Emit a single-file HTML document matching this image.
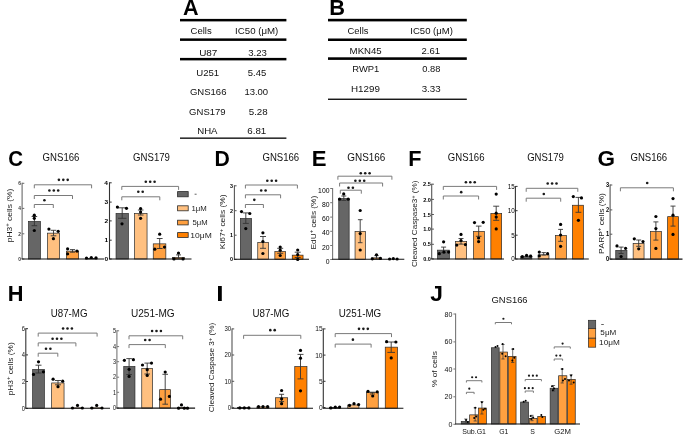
<!DOCTYPE html>
<html><head><meta charset="utf-8"><style>
html,body{margin:0;padding:0;background:#fff;width:685px;height:435px;overflow:hidden}
svg{will-change:transform;display:block;font-family:"Liberation Sans",sans-serif;font-kerning:none;white-space:pre}
</style></head><body>
<svg width="685" height="435" viewBox="0 0 685 435">
<rect width="685" height="435" fill="#fff"/>
<rect x="180" y="18.9" width="106.4" height="2.5" fill="#000"/>
<rect x="180" y="38.4" width="106.4" height="2.5" fill="#000"/>
<rect x="180" y="57.9" width="106.4" height="2.5" fill="#000"/>
<rect x="180" y="137.5" width="106.4" height="1.3" fill="#000"/>
<text transform="translate(191.1 34.2) scale(0.9799 1.0000)" x="-0.49" y="0" fill="#111"><tspan font-size="9.7">Cells</tspan></text>
<text transform="translate(236 34.2) scale(0.9972 1.0000)" x="-0.9" y="0" fill="#111"><tspan font-size="9.7">IC50 (μM)</tspan></text>
<text transform="translate(199.9 56.2) scale(1.0267 1.0000)" x="-0.75" y="0" fill="#111"><tspan font-size="9.7">U87</tspan></text>
<text transform="translate(248.6 56.2) scale(0.9899 1.0000)" x="-0.37" y="0" fill="#111"><tspan font-size="9.7">3.23</tspan></text>
<text transform="translate(197 76.3) scale(0.9878 1.0000)" x="-0.75" y="0" fill="#111"><tspan font-size="9.7">U251</tspan></text>
<text transform="translate(248.2 76.3) scale(0.9788 1.0000)" x="-0.39" y="0" fill="#111"><tspan font-size="9.7">5.45</tspan></text>
<text transform="translate(190.4 94.7) scale(0.9837 1.0000)" x="-0.49" y="0" fill="#111"><tspan font-size="9.7">GNS166</tspan></text>
<text transform="translate(245.1 94.7) scale(0.9803 1.0000)" x="-0.74" y="0" fill="#111"><tspan font-size="9.7">13.00</tspan></text>
<text transform="translate(189.6 115.2) scale(0.9819 1.0000)" x="-0.49" y="0" fill="#111"><tspan font-size="9.7">GNS179</tspan></text>
<text transform="translate(249.1 115.2) scale(1.0072 1.0000)" x="-0.39" y="0" fill="#111"><tspan font-size="9.7">5.28</tspan></text>
<text transform="translate(198 134.2) scale(0.9916 1.0000)" x="-0.8" y="0" fill="#111"><tspan font-size="9.7">NHA</tspan></text>
<text transform="translate(247.8 134.2) scale(1.0049 1.0000)" x="-0.49" y="0" fill="#111"><tspan font-size="9.7">6.81</tspan></text>
<rect x="328" y="18.8" width="138.8" height="2.6" fill="#000"/>
<rect x="328" y="38.5" width="138.8" height="2.5" fill="#000"/>
<rect x="328" y="57.3" width="138.8" height="2.6" fill="#000"/>
<rect x="328" y="98.6" width="138.8" height="1.3" fill="#000"/>
<text transform="translate(348 34.1) scale(0.9702 1.0000)" x="-0.49" y="0" fill="#111"><tspan font-size="9.7">Cells</tspan></text>
<text transform="translate(411.2 34.1) scale(0.9852 1.0000)" x="-0.9" y="0" fill="#111"><tspan font-size="9.7">IC50 (μM)</tspan></text>
<text transform="translate(350.4 53.5) scale(0.9955 1.0000)" x="-0.8" y="0" fill="#111"><tspan font-size="9.7">MKN45</tspan></text>
<text transform="translate(422 53.5) scale(0.9823 1.0000)" x="-0.49" y="0" fill="#111"><tspan font-size="9.7">2.61</tspan></text>
<text transform="translate(352.9 72.2) scale(0.9718 1.0000)" x="-0.8" y="0" fill="#111"><tspan font-size="9.7">RWP1</tspan></text>
<text transform="translate(422.6 72.2) scale(0.9625 1.0000)" x="-0.38" y="0" fill="#111"><tspan font-size="9.7">0.88</tspan></text>
<text transform="translate(351.8 91.5) scale(1.0136 1.0000)" x="-0.8" y="0" fill="#111"><tspan font-size="9.7">H1299</tspan></text>
<text transform="translate(422 91.5) scale(1.0065 1.0000)" x="-0.37" y="0" fill="#111"><tspan font-size="9.7">3.33</tspan></text>
<text transform="translate(183.5 14.9) scale(0.9606 1.0000)" x="-0.56" y="0" fill="#000" font-weight="bold"><tspan font-size="22.5">A</tspan></text>
<text transform="translate(330.7 15.1) scale(0.9693 1.0000)" x="-1.51" y="0" fill="#000" font-weight="bold"><tspan font-size="22.5">B</tspan></text>
<text transform="translate(9 165.5) scale(0.9109 1.0000)" x="-0.92" y="0" fill="#000" font-weight="bold"><tspan font-size="22.5">C</tspan></text>
<text transform="translate(43.1 161.2) scale(0.9227 1.0000)" x="-0.52" y="0" fill="#111"><tspan font-size="10.4">GNS166</tspan></text>
<text transform="translate(11.9 241.7) rotate(-90) scale(1.1873 1)" x="-0.46" y="0" fill="#1a1a1a"><tspan font-size="7.1">pH3</tspan><tspan font-size="5.11" dy="-2.56">+</tspan><tspan font-size="7.1" dy="2.56"> cells (%)</tspan></text>
<line x1="22.1" y1="182.8" x2="22.1" y2="259" stroke="#6a6a6a" stroke-width="1.1"/>
<line x1="22.1" y1="183.3" x2="24.3" y2="183.3" stroke="#6a6a6a" stroke-width="1"/>
<text transform="translate(18.45 185.16) scale(0.9000 1.0000)" x="-0.2" y="0" fill="#333" font-weight="bold"><tspan font-size="5.4">6</tspan></text>
<line x1="22.1" y1="208.4" x2="24.3" y2="208.4" stroke="#6a6a6a" stroke-width="1"/>
<text transform="translate(18.2 210.26) scale(0.9000 1.0000)" x="-0.08" y="0" fill="#333" font-weight="bold"><tspan font-size="5.4">4</tspan></text>
<line x1="22.1" y1="233.8" x2="24.3" y2="233.8" stroke="#6a6a6a" stroke-width="1"/>
<text transform="translate(18.46 235.69) scale(0.9000 1.0000)" x="-0.19" y="0" fill="#333" font-weight="bold"><tspan font-size="5.4">2</tspan></text>
<line x1="22.1" y1="259" x2="24.3" y2="259" stroke="#6a6a6a" stroke-width="1"/>
<text transform="translate(18.49 260.86) scale(0.9000 1.0000)" x="-0.21" y="0" fill="#333" font-weight="bold"><tspan font-size="5.4">0</tspan></text>
<rect x="28.55" y="221.45" width="11.9" height="37.55" fill="#666666" stroke="#2a2a2a" stroke-width="0.7"/>
<rect x="47.55" y="233.15" width="12" height="25.85" fill="#FFC080" stroke="#2a2a2a" stroke-width="0.7"/>
<rect x="66.35" y="251.15" width="12.3" height="7.85" fill="#FFA040" stroke="#2a2a2a" stroke-width="0.7"/>
<rect x="85.35" y="258.65" width="11.8" height="0.35" fill="#FF8000" stroke="#2a2a2a" stroke-width="0.7"/>
<line x1="21.6" y1="259" x2="104" y2="259" stroke="#111" stroke-width="1.1"/>
<line x1="34.4" y1="216.5" x2="34.4" y2="225.7" stroke="#333" stroke-width="0.9"/>
<line x1="31.6" y1="216.5" x2="37.2" y2="216.5" stroke="#333" stroke-width="0.9"/>
<line x1="31.6" y1="225.7" x2="37.2" y2="225.7" stroke="#333" stroke-width="0.9"/>
<line x1="53.5" y1="230.3" x2="53.5" y2="235.8" stroke="#333" stroke-width="0.9"/>
<line x1="50.7" y1="230.3" x2="56.3" y2="230.3" stroke="#333" stroke-width="0.9"/>
<line x1="50.7" y1="235.8" x2="56.3" y2="235.8" stroke="#333" stroke-width="0.9"/>
<line x1="72.5" y1="249.6" x2="72.5" y2="252.2" stroke="#333" stroke-width="0.9"/>
<line x1="69.9" y1="249.6" x2="75.1" y2="249.6" stroke="#333" stroke-width="0.9"/>
<line x1="69.9" y1="252.2" x2="75.1" y2="252.2" stroke="#333" stroke-width="0.9"/>
<circle cx="34.3" cy="215.2" r="1.6" fill="#000"/>
<circle cx="34.3" cy="218.3" r="1.6" fill="#000"/>
<circle cx="34.3" cy="230.5" r="1.6" fill="#000"/>
<circle cx="48.9" cy="229.1" r="1.6" fill="#000"/>
<circle cx="58.2" cy="231.3" r="1.6" fill="#000"/>
<circle cx="53.4" cy="238.7" r="1.6" fill="#000"/>
<circle cx="67.6" cy="248.8" r="1.6" fill="#000"/>
<circle cx="77" cy="251.1" r="1.6" fill="#000"/>
<circle cx="67.6" cy="253.9" r="1.6" fill="#000"/>
<circle cx="86.5" cy="258" r="1.6" fill="#000"/>
<circle cx="91.3" cy="257.5" r="1.6" fill="#000"/>
<circle cx="96" cy="257.8" r="1.6" fill="#000"/>
<path d="M34.3 208V204.5H53.3V208" fill="none" stroke="#7a7a7a" stroke-width="1"/>
<circle cx="44.4" cy="200.25" r="1.3" fill="#1a1a1a"/>
<path d="M34.3 199V195.5H72.5V199" fill="none" stroke="#7a7a7a" stroke-width="1"/>
<circle cx="49.4" cy="190.55" r="1.3" fill="#1a1a1a"/>
<circle cx="53.8" cy="190.55" r="1.3" fill="#1a1a1a"/>
<circle cx="58.2" cy="190.55" r="1.3" fill="#1a1a1a"/>
<path d="M34.3 188.3V184.8H91.6V188.3" fill="none" stroke="#7a7a7a" stroke-width="1"/>
<circle cx="58.9" cy="179.85" r="1.3" fill="#1a1a1a"/>
<circle cx="63.3" cy="179.85" r="1.3" fill="#1a1a1a"/>
<circle cx="67.7" cy="179.85" r="1.3" fill="#1a1a1a"/>
<text transform="translate(133.6 161.2) scale(0.9235 1.0000)" x="-0.52" y="0" fill="#111"><tspan font-size="10.4">GNS179</tspan></text>
<line x1="109.5" y1="182.3" x2="109.5" y2="259" stroke="#333" stroke-width="1.1"/>
<line x1="109.5" y1="182.8" x2="111.7" y2="182.8" stroke="#333" stroke-width="1"/>
<text transform="translate(104.46 184.86) scale(1.1000 1.0000)" x="-0.09" y="0" fill="#000" font-weight="bold"><tspan font-size="6">4</tspan></text>
<line x1="109.5" y1="202.1" x2="111.7" y2="202.1" stroke="#333" stroke-width="1"/>
<text transform="translate(104.72 204.16) scale(1.1000 1.0000)" x="-0.14" y="0" fill="#000" font-weight="bold"><tspan font-size="6">3</tspan></text>
<line x1="109.5" y1="220.9" x2="111.7" y2="220.9" stroke="#333" stroke-width="1"/>
<text transform="translate(104.82 222.99) scale(1.1000 1.0000)" x="-0.21" y="0" fill="#000" font-weight="bold"><tspan font-size="6">2</tspan></text>
<line x1="109.5" y1="240.2" x2="111.7" y2="240.2" stroke="#333" stroke-width="1"/>
<text transform="translate(104.93 242.26) scale(1.1000 1.0000)" x="-0.38" y="0" fill="#000" font-weight="bold"><tspan font-size="6">1</tspan></text>
<line x1="109.5" y1="259" x2="111.7" y2="259" stroke="#333" stroke-width="1"/>
<text transform="translate(104.86 261.07) scale(1.1000 1.0000)" x="-0.24" y="0" fill="#000" font-weight="bold"><tspan font-size="6">0</tspan></text>
<rect x="116.05" y="213.45" width="12.3" height="45.55" fill="#666666" stroke="#2a2a2a" stroke-width="0.7"/>
<rect x="134.55" y="213.45" width="12.5" height="45.55" fill="#FFC080" stroke="#2a2a2a" stroke-width="0.7"/>
<rect x="153.25" y="243.85" width="12.6" height="15.15" fill="#FFA040" stroke="#2a2a2a" stroke-width="0.7"/>
<rect x="172.55" y="257.65" width="11.8" height="1.35" fill="#FF8000" stroke="#2a2a2a" stroke-width="0.7"/>
<line x1="109" y1="259" x2="191.5" y2="259" stroke="#111" stroke-width="1.1"/>
<line x1="122.2" y1="207.8" x2="122.2" y2="218.3" stroke="#333" stroke-width="0.9"/>
<line x1="118" y1="207.8" x2="126.4" y2="207.8" stroke="#333" stroke-width="0.9"/>
<line x1="118" y1="218.3" x2="126.4" y2="218.3" stroke="#333" stroke-width="0.9"/>
<line x1="140.7" y1="210" x2="140.7" y2="215" stroke="#333" stroke-width="0.9"/>
<line x1="137.9" y1="210" x2="143.5" y2="210" stroke="#333" stroke-width="0.9"/>
<line x1="137.9" y1="215" x2="143.5" y2="215" stroke="#333" stroke-width="0.9"/>
<line x1="159.7" y1="238.5" x2="159.7" y2="248.5" stroke="#333" stroke-width="0.9"/>
<line x1="156.8" y1="238.5" x2="162.6" y2="238.5" stroke="#333" stroke-width="0.9"/>
<line x1="156.8" y1="248.5" x2="162.6" y2="248.5" stroke="#333" stroke-width="0.9"/>
<line x1="178.5" y1="254.9" x2="178.5" y2="259" stroke="#333" stroke-width="0.9"/>
<line x1="176" y1="254.9" x2="181" y2="254.9" stroke="#333" stroke-width="0.9"/>
<line x1="176" y1="259" x2="181" y2="259" stroke="#333" stroke-width="0.9"/>
<circle cx="117.4" cy="207.1" r="1.6" fill="#000"/>
<circle cx="126.5" cy="208.3" r="1.6" fill="#000"/>
<circle cx="122" cy="223.8" r="1.6" fill="#000"/>
<circle cx="140.6" cy="208.6" r="1.6" fill="#000"/>
<circle cx="140.6" cy="212.1" r="1.6" fill="#000"/>
<circle cx="140.6" cy="218.3" r="1.6" fill="#000"/>
<circle cx="159.7" cy="234.2" r="1.6" fill="#000"/>
<circle cx="154.8" cy="249.2" r="1.6" fill="#000"/>
<circle cx="164.5" cy="247.1" r="1.6" fill="#000"/>
<circle cx="178.5" cy="253" r="1.6" fill="#000"/>
<circle cx="174" cy="258.9" r="1.6" fill="#000"/>
<circle cx="183" cy="258.9" r="1.6" fill="#000"/>
<path d="M121.8 200.3V196.8H159.8V200.3" fill="none" stroke="#7a7a7a" stroke-width="1"/>
<circle cx="138.3" cy="191.75" r="1.3" fill="#1a1a1a"/>
<circle cx="142.7" cy="191.75" r="1.3" fill="#1a1a1a"/>
<path d="M121.8 189.9V186.4H178.6V189.9" fill="none" stroke="#7a7a7a" stroke-width="1"/>
<circle cx="145.8" cy="181.75" r="1.3" fill="#1a1a1a"/>
<circle cx="150.2" cy="181.75" r="1.3" fill="#1a1a1a"/>
<circle cx="154.6" cy="181.75" r="1.3" fill="#1a1a1a"/>
<rect x="177.6" y="191.6" width="10.6" height="5.2" fill="#666666" stroke="#2a2a2a" stroke-width="0.8"/>
<rect x="177.6" y="205.8" width="10.6" height="5" fill="#FFC080" stroke="#2a2a2a" stroke-width="0.8"/>
<rect x="177.6" y="220.2" width="10.6" height="4.7" fill="#FFA040" stroke="#2a2a2a" stroke-width="0.8"/>
<rect x="177.6" y="232.6" width="10.6" height="4.8" fill="#FF8000" stroke="#2a2a2a" stroke-width="0.8"/>
<rect x="194.6" y="193.8" width="2" height="0.7" fill="#222"/>
<text transform="translate(192.1 211.2) scale(1.0266 1.0000)" x="-0.58" y="0" fill="#222"><tspan font-size="7.6">1</tspan><tspan font-size="7.6">μ</tspan><tspan font-size="7.6">M</tspan></text>
<text transform="translate(192.8 225.3) scale(1.0136 1.0000)" x="-0.3" y="0" fill="#222"><tspan font-size="7.6">5μM</tspan></text>
<text transform="translate(191 237.8) scale(1.1247 1.0000)" x="-0.58" y="0" fill="#222"><tspan font-size="7.6">10μM</tspan></text>
<text transform="translate(216 165.8) scale(0.9421 1.0000)" x="-1.51" y="0" fill="#000" font-weight="bold"><tspan font-size="22.5">D</tspan></text>
<text transform="translate(262.9 161.2) scale(0.9227 1.0000)" x="-0.52" y="0" fill="#111"><tspan font-size="10.4">GNS166</tspan></text>
<text transform="translate(225.2 248.5) rotate(-90) scale(1.1794 1)" x="-0.58" y="0" fill="#1a1a1a"><tspan font-size="7.1">Ki67</tspan><tspan font-size="5.11" dy="-2.56">+</tspan><tspan font-size="7.1" dy="2.56"> cells (%)</tspan></text>
<line x1="234.4" y1="185.3" x2="234.4" y2="259.2" stroke="#555" stroke-width="1.1"/>
<line x1="234.4" y1="185.8" x2="236.6" y2="185.8" stroke="#555" stroke-width="1"/>
<text transform="translate(230.12 187.86) scale(0.9000 1.0000)" x="-0.14" y="0" fill="#000" font-weight="bold"><tspan font-size="6">3</tspan></text>
<line x1="234.4" y1="210.7" x2="236.6" y2="210.7" stroke="#555" stroke-width="1"/>
<text transform="translate(230.2 212.79) scale(0.9000 1.0000)" x="-0.21" y="0" fill="#000" font-weight="bold"><tspan font-size="6">2</tspan></text>
<line x1="234.4" y1="235.2" x2="236.6" y2="235.2" stroke="#555" stroke-width="1"/>
<text transform="translate(230.29 237.26) scale(0.9000 1.0000)" x="-0.38" y="0" fill="#000" font-weight="bold"><tspan font-size="6">1</tspan></text>
<line x1="234.4" y1="259.4" x2="236.6" y2="259.4" stroke="#555" stroke-width="1"/>
<text transform="translate(230.23 261.47) scale(0.9000 1.0000)" x="-0.24" y="0" fill="#000" font-weight="bold"><tspan font-size="6">0</tspan></text>
<rect x="240.35" y="218.45" width="11.2" height="40.75" fill="#666666" stroke="#2a2a2a" stroke-width="0.7"/>
<rect x="257.75" y="242.45" width="10.9" height="16.75" fill="#FFC080" stroke="#2a2a2a" stroke-width="0.7"/>
<rect x="274.85" y="251.55" width="10.8" height="7.65" fill="#FFA040" stroke="#2a2a2a" stroke-width="0.7"/>
<rect x="292.25" y="255.15" width="10.8" height="4.05" fill="#FF8000" stroke="#2a2a2a" stroke-width="0.7"/>
<line x1="233.9" y1="259.2" x2="309" y2="259.2" stroke="#111" stroke-width="1.1"/>
<line x1="245.8" y1="212.9" x2="245.8" y2="223.4" stroke="#333" stroke-width="0.9"/>
<line x1="242.8" y1="212.9" x2="248.8" y2="212.9" stroke="#333" stroke-width="0.9"/>
<line x1="242.8" y1="223.4" x2="248.8" y2="223.4" stroke="#333" stroke-width="0.9"/>
<line x1="263" y1="236.5" x2="263" y2="248.3" stroke="#333" stroke-width="0.9"/>
<line x1="260" y1="236.5" x2="266" y2="236.5" stroke="#333" stroke-width="0.9"/>
<line x1="260" y1="248.3" x2="266" y2="248.3" stroke="#333" stroke-width="0.9"/>
<line x1="280.2" y1="248.3" x2="280.2" y2="253.3" stroke="#333" stroke-width="0.9"/>
<line x1="277.2" y1="248.3" x2="283.2" y2="248.3" stroke="#333" stroke-width="0.9"/>
<line x1="277.2" y1="253.3" x2="283.2" y2="253.3" stroke="#333" stroke-width="0.9"/>
<line x1="297.7" y1="252.2" x2="297.7" y2="257.5" stroke="#333" stroke-width="0.9"/>
<line x1="294.7" y1="252.2" x2="300.7" y2="252.2" stroke="#333" stroke-width="0.9"/>
<line x1="294.7" y1="257.5" x2="300.7" y2="257.5" stroke="#333" stroke-width="0.9"/>
<circle cx="241.5" cy="211.6" r="1.6" fill="#000"/>
<circle cx="249.8" cy="213.5" r="1.6" fill="#000"/>
<circle cx="245.8" cy="228.6" r="1.6" fill="#000"/>
<circle cx="262.9" cy="232.8" r="1.6" fill="#000"/>
<circle cx="262.9" cy="241.5" r="1.6" fill="#000"/>
<circle cx="262.9" cy="253.5" r="1.6" fill="#000"/>
<circle cx="280.2" cy="247" r="1.6" fill="#000"/>
<circle cx="280.2" cy="250.2" r="1.6" fill="#000"/>
<circle cx="280.2" cy="255.5" r="1.6" fill="#000"/>
<circle cx="297.7" cy="250" r="1.6" fill="#000"/>
<circle cx="297.7" cy="254.6" r="1.6" fill="#000"/>
<circle cx="297.7" cy="259.4" r="1.6" fill="#000"/>
<path d="M245.4 208V204.5H263.4V208" fill="none" stroke="#7a7a7a" stroke-width="1"/>
<circle cx="254.3" cy="199.85" r="1.3" fill="#1a1a1a"/>
<path d="M245.4 198.3V194.8H280.6V198.3" fill="none" stroke="#7a7a7a" stroke-width="1"/>
<circle cx="261.2" cy="190.45" r="1.3" fill="#1a1a1a"/>
<circle cx="265.6" cy="190.45" r="1.3" fill="#1a1a1a"/>
<path d="M245.4 188.5V185H297.4V188.5" fill="none" stroke="#7a7a7a" stroke-width="1"/>
<circle cx="267.3" cy="180.75" r="1.3" fill="#1a1a1a"/>
<circle cx="271.7" cy="180.75" r="1.3" fill="#1a1a1a"/>
<circle cx="276.1" cy="180.75" r="1.3" fill="#1a1a1a"/>
<text transform="translate(313.3 165.8) scale(0.9823 1.0000)" x="-1.51" y="0" fill="#000" font-weight="bold"><tspan font-size="22.5">E</tspan></text>
<text transform="translate(347.8 161.2) scale(0.9561 1.0000)" x="-0.52" y="0" fill="#111"><tspan font-size="10.4">GNS166</tspan></text>
<text transform="translate(316 248.8) rotate(-90) scale(1.1698 1)" x="-0.58" y="0" fill="#1a1a1a"><tspan font-size="7.1">EdU</tspan><tspan font-size="5.11" dy="-2.56">+</tspan><tspan font-size="7.1" dy="2.56"> cells (%)</tspan></text>
<line x1="332.6" y1="188" x2="332.6" y2="259.3" stroke="#777777" stroke-width="1.1"/>
<line x1="330.2" y1="188.5" x2="332.6" y2="188.5" stroke="#777777" stroke-width="1"/>
<text transform="translate(318.64 192.64) scale(1.0000 1.0000)" x="-0.52" y="0" fill="#000"><tspan font-size="6.8">100</tspan></text>
<line x1="330.2" y1="202.7" x2="332.6" y2="202.7" stroke="#777777" stroke-width="1"/>
<text transform="translate(322.2 206.84) scale(1.0000 1.0000)" x="-0.3" y="0" fill="#000"><tspan font-size="6.8">80</tspan></text>
<line x1="330.2" y1="217.1" x2="332.6" y2="217.1" stroke="#777777" stroke-width="1"/>
<text transform="translate(322.25 221.24) scale(1.0000 1.0000)" x="-0.35" y="0" fill="#000"><tspan font-size="6.8">60</tspan></text>
<line x1="330.2" y1="231.3" x2="332.6" y2="231.3" stroke="#777777" stroke-width="1"/>
<text transform="translate(322.06 235.44) scale(1.0000 1.0000)" x="-0.16" y="0" fill="#000"><tspan font-size="6.8">40</tspan></text>
<line x1="330.2" y1="245.5" x2="332.6" y2="245.5" stroke="#777777" stroke-width="1"/>
<text transform="translate(322.24 249.64) scale(1.0000 1.0000)" x="-0.34" y="0" fill="#000"><tspan font-size="6.8">20</tspan></text>
<line x1="330.2" y1="259.5" x2="332.6" y2="259.5" stroke="#777777" stroke-width="1"/>
<text transform="translate(325.95 263.64) scale(1.0000 1.0000)" x="-0.27" y="0" fill="#000"><tspan font-size="6.8">0</tspan></text>
<rect x="338.75" y="198.65" width="10.4" height="60.65" fill="#666666" stroke="#2a2a2a" stroke-width="0.7"/>
<rect x="355.05" y="231.35" width="10.3" height="27.95" fill="#FFC080" stroke="#2a2a2a" stroke-width="0.7"/>
<rect x="371.55" y="257.85" width="9.8" height="1.45" fill="#FFA040" stroke="#2a2a2a" stroke-width="0.7"/>
<rect x="388.15" y="259.35" width="9.7" height="-0.05" fill="#FF8000" stroke="#2a2a2a" stroke-width="0.7"/>
<line x1="332.1" y1="259.3" x2="404.3" y2="259.3" stroke="#111" stroke-width="1.1"/>
<line x1="343.8" y1="196" x2="343.8" y2="200.4" stroke="#333" stroke-width="0.9"/>
<line x1="341.3" y1="196" x2="346.3" y2="196" stroke="#333" stroke-width="0.9"/>
<line x1="341.3" y1="200.4" x2="346.3" y2="200.4" stroke="#333" stroke-width="0.9"/>
<line x1="360.2" y1="219.7" x2="360.2" y2="242.7" stroke="#333" stroke-width="0.9"/>
<line x1="357.9" y1="219.7" x2="362.5" y2="219.7" stroke="#333" stroke-width="0.9"/>
<line x1="357.9" y1="242.7" x2="362.5" y2="242.7" stroke="#333" stroke-width="0.9"/>
<line x1="376.5" y1="255.6" x2="376.5" y2="259" stroke="#333" stroke-width="0.9"/>
<line x1="374.3" y1="255.6" x2="378.7" y2="255.6" stroke="#333" stroke-width="0.9"/>
<line x1="374.3" y1="259" x2="378.7" y2="259" stroke="#333" stroke-width="0.9"/>
<circle cx="343.7" cy="193.9" r="1.6" fill="#000"/>
<circle cx="339.6" cy="199.2" r="1.6" fill="#000"/>
<circle cx="348.2" cy="199.2" r="1.6" fill="#000"/>
<circle cx="360.2" cy="210.5" r="1.6" fill="#000"/>
<circle cx="360.2" cy="233.6" r="1.6" fill="#000"/>
<circle cx="360.2" cy="250" r="1.6" fill="#000"/>
<circle cx="376.5" cy="254.8" r="1.6" fill="#000"/>
<circle cx="372.3" cy="258.8" r="1.6" fill="#000"/>
<circle cx="380.4" cy="258.4" r="1.6" fill="#000"/>
<circle cx="389.6" cy="259" r="1.6" fill="#000"/>
<circle cx="393.3" cy="258.6" r="1.6" fill="#000"/>
<circle cx="397.1" cy="259" r="1.6" fill="#000"/>
<path d="M340.3 193.7V190.2H361.3V193.7" fill="none" stroke="#7a7a7a" stroke-width="1"/>
<circle cx="348.5" cy="187.75" r="1.3" fill="#1a1a1a"/>
<circle cx="352.9" cy="187.75" r="1.3" fill="#1a1a1a"/>
<path d="M339.6 186.5V183H382.6V186.5" fill="none" stroke="#7a7a7a" stroke-width="1"/>
<circle cx="355.4" cy="180.75" r="1.3" fill="#1a1a1a"/>
<circle cx="359.8" cy="180.75" r="1.3" fill="#1a1a1a"/>
<circle cx="364.2" cy="180.75" r="1.3" fill="#1a1a1a"/>
<path d="M337.9 179.7V176.2H391.9V179.7" fill="none" stroke="#7a7a7a" stroke-width="1"/>
<circle cx="360.8" cy="173.25" r="1.3" fill="#1a1a1a"/>
<circle cx="365.2" cy="173.25" r="1.3" fill="#1a1a1a"/>
<circle cx="369.6" cy="173.25" r="1.3" fill="#1a1a1a"/>
<text transform="translate(409.7 165.8) scale(0.9637 1.0000)" x="-1.51" y="0" fill="#000" font-weight="bold"><tspan font-size="22.5">F</tspan></text>
<text transform="translate(448.3 161.2) scale(0.9201 1.0000)" x="-0.52" y="0" fill="#111"><tspan font-size="10.4">GNS166</tspan></text>
<text transform="translate(417.4 266.6) rotate(-90) scale(1.0777 1)" x="-0.38" y="0" fill="#1a1a1a"><tspan font-size="7.5">Cleaved Caspase3</tspan><tspan font-size="5.4" dy="-2.7">+</tspan><tspan font-size="7.5" dy="2.7"> (%)</tspan></text>
<line x1="431.7" y1="183.7" x2="431.7" y2="259" stroke="#555" stroke-width="1.1"/>
<line x1="431.7" y1="184.2" x2="433.9" y2="184.2" stroke="#555" stroke-width="1"/>
<text transform="translate(423.29 186.33) scale(0.9000 1.0000)" x="-0.21" y="0" fill="#000" font-weight="bold"><tspan font-size="6.2">2.5</tspan></text>
<line x1="431.7" y1="199.4" x2="433.9" y2="199.4" stroke="#555" stroke-width="1"/>
<text transform="translate(423.37 201.53) scale(0.9000 1.0000)" x="-0.21" y="0" fill="#000" font-weight="bold"><tspan font-size="6.2">2.0</tspan></text>
<line x1="431.7" y1="214.5" x2="433.9" y2="214.5" stroke="#555" stroke-width="1"/>
<text transform="translate(423.45 216.6) scale(0.9000 1.0000)" x="-0.39" y="0" fill="#000" font-weight="bold"><tspan font-size="6.2">1.5</tspan></text>
<line x1="431.7" y1="229.1" x2="433.9" y2="229.1" stroke="#555" stroke-width="1"/>
<text transform="translate(423.52 231.23) scale(0.9000 1.0000)" x="-0.39" y="0" fill="#000" font-weight="bold"><tspan font-size="6.2">1.0</tspan></text>
<line x1="431.7" y1="244.3" x2="433.9" y2="244.3" stroke="#555" stroke-width="1"/>
<text transform="translate(423.32 246.43) scale(0.9000 1.0000)" x="-0.25" y="0" fill="#000" font-weight="bold"><tspan font-size="6.2">0.5</tspan></text>
<line x1="431.7" y1="258.9" x2="433.9" y2="258.9" stroke="#555" stroke-width="1"/>
<text transform="translate(423.39 261.03) scale(0.9000 1.0000)" x="-0.25" y="0" fill="#000" font-weight="bold"><tspan font-size="6.2">0.0</tspan></text>
<rect x="437.55" y="250.15" width="11.8" height="8.85" fill="#666666" stroke="#2a2a2a" stroke-width="0.7"/>
<rect x="455.55" y="241.35" width="11.1" height="17.65" fill="#FFC080" stroke="#2a2a2a" stroke-width="0.7"/>
<rect x="473.45" y="231.35" width="10.9" height="27.65" fill="#FFA040" stroke="#2a2a2a" stroke-width="0.7"/>
<rect x="490.85" y="213.45" width="10.8" height="45.55" fill="#FF8000" stroke="#2a2a2a" stroke-width="0.7"/>
<line x1="431.2" y1="259" x2="504" y2="259" stroke="#111" stroke-width="1.1"/>
<line x1="443.6" y1="247.1" x2="443.6" y2="252.7" stroke="#333" stroke-width="0.9"/>
<line x1="441.1" y1="247.1" x2="446.1" y2="247.1" stroke="#333" stroke-width="0.9"/>
<line x1="441.1" y1="252.7" x2="446.1" y2="252.7" stroke="#333" stroke-width="0.9"/>
<line x1="461" y1="238.5" x2="461" y2="244.1" stroke="#333" stroke-width="0.9"/>
<line x1="458.5" y1="238.5" x2="463.5" y2="238.5" stroke="#333" stroke-width="0.9"/>
<line x1="458.5" y1="244.1" x2="463.5" y2="244.1" stroke="#333" stroke-width="0.9"/>
<line x1="478.7" y1="226.1" x2="478.7" y2="236.3" stroke="#333" stroke-width="0.9"/>
<line x1="475.9" y1="226.1" x2="481.5" y2="226.1" stroke="#333" stroke-width="0.9"/>
<line x1="475.9" y1="236.3" x2="481.5" y2="236.3" stroke="#333" stroke-width="0.9"/>
<line x1="496.2" y1="206.2" x2="496.2" y2="220.3" stroke="#333" stroke-width="0.9"/>
<line x1="493.2" y1="206.2" x2="499.2" y2="206.2" stroke="#333" stroke-width="0.9"/>
<line x1="493.2" y1="220.3" x2="499.2" y2="220.3" stroke="#333" stroke-width="0.9"/>
<circle cx="443.6" cy="241.8" r="1.6" fill="#000"/>
<circle cx="439.3" cy="253.7" r="1.6" fill="#000"/>
<circle cx="443.9" cy="252.1" r="1.6" fill="#000"/>
<circle cx="448.6" cy="252.1" r="1.6" fill="#000"/>
<circle cx="461" cy="234.4" r="1.6" fill="#000"/>
<circle cx="456.8" cy="245.1" r="1.6" fill="#000"/>
<circle cx="461" cy="240.5" r="1.6" fill="#000"/>
<circle cx="465.4" cy="244.6" r="1.6" fill="#000"/>
<circle cx="474.5" cy="222.6" r="1.6" fill="#000"/>
<circle cx="483.2" cy="222.3" r="1.6" fill="#000"/>
<circle cx="478.6" cy="238" r="1.6" fill="#000"/>
<circle cx="478.6" cy="241.6" r="1.6" fill="#000"/>
<circle cx="496.2" cy="194.1" r="1.6" fill="#000"/>
<circle cx="496.2" cy="213.2" r="1.6" fill="#000"/>
<circle cx="496.2" cy="217" r="1.6" fill="#000"/>
<circle cx="496.2" cy="228.9" r="1.6" fill="#000"/>
<path d="M443.3 199.5V196H478.6V199.5" fill="none" stroke="#7a7a7a" stroke-width="1"/>
<circle cx="461.2" cy="192.15" r="1.3" fill="#1a1a1a"/>
<path d="M443.3 189.9V186.4H496.6V189.9" fill="none" stroke="#7a7a7a" stroke-width="1"/>
<circle cx="465.9" cy="182.25" r="1.3" fill="#1a1a1a"/>
<circle cx="470.3" cy="182.25" r="1.3" fill="#1a1a1a"/>
<circle cx="474.7" cy="182.25" r="1.3" fill="#1a1a1a"/>
<text transform="translate(527.6 161.2) scale(0.9209 1.0000)" x="-0.52" y="0" fill="#111"><tspan font-size="10.4">GNS179</tspan></text>
<line x1="515.4" y1="185.9" x2="515.4" y2="259" stroke="#333" stroke-width="1.1"/>
<line x1="515.4" y1="186.4" x2="517.6" y2="186.4" stroke="#333" stroke-width="1"/>
<text transform="translate(508.18 188.71) scale(0.9200 1.0000)" x="-0.52" y="0" fill="#000"><tspan font-size="6.8">15</tspan></text>
<line x1="515.4" y1="210.7" x2="517.6" y2="210.7" stroke="#333" stroke-width="1"/>
<text transform="translate(508.16 213.04) scale(0.9200 1.0000)" x="-0.52" y="0" fill="#000"><tspan font-size="6.8">10</tspan></text>
<line x1="515.4" y1="235.2" x2="517.6" y2="235.2" stroke="#333" stroke-width="1"/>
<text transform="translate(511.43 237.51) scale(0.9200 1.0000)" x="-0.27" y="0" fill="#000"><tspan font-size="6.8">5</tspan></text>
<line x1="515.4" y1="259" x2="517.6" y2="259" stroke="#333" stroke-width="1"/>
<text transform="translate(511.41 261.34) scale(0.9200 1.0000)" x="-0.27" y="0" fill="#000"><tspan font-size="6.8">0</tspan></text>
<rect x="520.75" y="256.25" width="11.1" height="2.75" fill="#666666" stroke="#2a2a2a" stroke-width="0.7"/>
<rect x="538.15" y="254.85" width="10.8" height="4.15" fill="#FFC080" stroke="#2a2a2a" stroke-width="0.7"/>
<rect x="555.45" y="235.55" width="10.9" height="23.45" fill="#FFA040" stroke="#2a2a2a" stroke-width="0.7"/>
<rect x="572.55" y="205.25" width="10.9" height="53.75" fill="#FF8000" stroke="#2a2a2a" stroke-width="0.7"/>
<line x1="514.9" y1="259" x2="588.8" y2="259" stroke="#111" stroke-width="1.1"/>
<line x1="543.7" y1="252.6" x2="543.7" y2="255" stroke="#333" stroke-width="0.9"/>
<line x1="541.5" y1="252.6" x2="545.9" y2="252.6" stroke="#333" stroke-width="0.9"/>
<line x1="541.5" y1="255" x2="545.9" y2="255" stroke="#333" stroke-width="0.9"/>
<line x1="560.6" y1="229.4" x2="560.6" y2="241.3" stroke="#333" stroke-width="0.9"/>
<line x1="558.2" y1="229.4" x2="563" y2="229.4" stroke="#333" stroke-width="0.9"/>
<line x1="558.2" y1="241.3" x2="563" y2="241.3" stroke="#333" stroke-width="0.9"/>
<line x1="578.4" y1="197.4" x2="578.4" y2="212.3" stroke="#333" stroke-width="0.9"/>
<line x1="575.5" y1="197.4" x2="581.3" y2="197.4" stroke="#333" stroke-width="0.9"/>
<line x1="575.5" y1="212.3" x2="581.3" y2="212.3" stroke="#333" stroke-width="0.9"/>
<circle cx="522.3" cy="256.7" r="1.6" fill="#000"/>
<circle cx="526.6" cy="255.4" r="1.6" fill="#000"/>
<circle cx="530.6" cy="256.2" r="1.6" fill="#000"/>
<circle cx="539.3" cy="252.1" r="1.6" fill="#000"/>
<circle cx="539.3" cy="255.9" r="1.6" fill="#000"/>
<circle cx="547.6" cy="253.7" r="1.6" fill="#000"/>
<circle cx="560.6" cy="224.4" r="1.6" fill="#000"/>
<circle cx="560.6" cy="235" r="1.6" fill="#000"/>
<circle cx="560.6" cy="246.3" r="1.6" fill="#000"/>
<circle cx="573.3" cy="196.6" r="1.6" fill="#000"/>
<circle cx="581.5" cy="197.9" r="1.6" fill="#000"/>
<circle cx="578.4" cy="220.3" r="1.6" fill="#000"/>
<path d="M526.2 201.7V198.2H560.7V201.7" fill="none" stroke="#7a7a7a" stroke-width="1"/>
<circle cx="543.8" cy="193.95" r="1.3" fill="#1a1a1a"/>
<path d="M526.2 191.8V188.3H577.8V191.8" fill="none" stroke="#7a7a7a" stroke-width="1"/>
<circle cx="547.7" cy="183.55" r="1.3" fill="#1a1a1a"/>
<circle cx="552.1" cy="183.55" r="1.3" fill="#1a1a1a"/>
<circle cx="556.5" cy="183.55" r="1.3" fill="#1a1a1a"/>
<text transform="translate(598.3 165.8) scale(1.0011 1.0000)" x="-0.92" y="0" fill="#000" font-weight="bold"><tspan font-size="22.5">G</tspan></text>
<text transform="translate(630.9 161.2) scale(0.9227 1.0000)" x="-0.52" y="0" fill="#111"><tspan font-size="10.4">GNS166</tspan></text>
<text transform="translate(604 253.3) rotate(-90) scale(1.1845 1)" x="-0.58" y="0" fill="#1a1a1a"><tspan font-size="7.1">PARP</tspan><tspan font-size="5.11" dy="-2.56">+</tspan><tspan font-size="7.1" dy="2.56"> cells (%)</tspan></text>
<line x1="610.1" y1="184.5" x2="610.1" y2="259.1" stroke="#555" stroke-width="1.1"/>
<line x1="610.1" y1="185" x2="612.3" y2="185" stroke="#555" stroke-width="1"/>
<text transform="translate(606.08 187.16) scale(0.9000 1.0000)" x="-0.14" y="0" fill="#000" font-weight="bold"><tspan font-size="6.3">3</tspan></text>
<line x1="610.1" y1="209.9" x2="612.3" y2="209.9" stroke="#555" stroke-width="1"/>
<text transform="translate(606.17 212.1) scale(0.9000 1.0000)" x="-0.22" y="0" fill="#000" font-weight="bold"><tspan font-size="6.3">2</tspan></text>
<line x1="610.1" y1="234.2" x2="612.3" y2="234.2" stroke="#555" stroke-width="1"/>
<text transform="translate(606.26 236.37) scale(0.9000 1.0000)" x="-0.4" y="0" fill="#000" font-weight="bold"><tspan font-size="6.3">1</tspan></text>
<line x1="610.1" y1="259.1" x2="612.3" y2="259.1" stroke="#555" stroke-width="1"/>
<text transform="translate(606.2 261.27) scale(0.9000 1.0000)" x="-0.25" y="0" fill="#000" font-weight="bold"><tspan font-size="6.3">0</tspan></text>
<rect x="615.75" y="250.35" width="11.2" height="8.75" fill="#666666" stroke="#2a2a2a" stroke-width="0.7"/>
<rect x="633.15" y="243.35" width="10.9" height="15.75" fill="#FFC080" stroke="#2a2a2a" stroke-width="0.7"/>
<rect x="650.55" y="231.55" width="10.9" height="27.55" fill="#FFA040" stroke="#2a2a2a" stroke-width="0.7"/>
<rect x="667.65" y="216.65" width="10.9" height="42.45" fill="#FF8000" stroke="#2a2a2a" stroke-width="0.7"/>
<line x1="609.6" y1="259.1" x2="682.5" y2="259.1" stroke="#111" stroke-width="1.1"/>
<line x1="621.1" y1="247.1" x2="621.1" y2="253.5" stroke="#333" stroke-width="0.9"/>
<line x1="618.6" y1="247.1" x2="623.6" y2="247.1" stroke="#333" stroke-width="0.9"/>
<line x1="618.6" y1="253.5" x2="623.6" y2="253.5" stroke="#333" stroke-width="0.9"/>
<line x1="638.7" y1="240" x2="638.7" y2="246.3" stroke="#333" stroke-width="0.9"/>
<line x1="636.2" y1="240" x2="641.2" y2="240" stroke="#333" stroke-width="0.9"/>
<line x1="636.2" y1="246.3" x2="641.2" y2="246.3" stroke="#333" stroke-width="0.9"/>
<line x1="655.9" y1="221.9" x2="655.9" y2="240.1" stroke="#333" stroke-width="0.9"/>
<line x1="653.4" y1="221.9" x2="658.4" y2="221.9" stroke="#333" stroke-width="0.9"/>
<line x1="653.4" y1="240.1" x2="658.4" y2="240.1" stroke="#333" stroke-width="0.9"/>
<line x1="673" y1="206.1" x2="673" y2="226.1" stroke="#333" stroke-width="0.9"/>
<line x1="670.5" y1="206.1" x2="675.5" y2="206.1" stroke="#333" stroke-width="0.9"/>
<line x1="670.5" y1="226.1" x2="675.5" y2="226.1" stroke="#333" stroke-width="0.9"/>
<circle cx="617" cy="245.9" r="1.6" fill="#000"/>
<circle cx="625.6" cy="248.3" r="1.6" fill="#000"/>
<circle cx="621.1" cy="256.5" r="1.6" fill="#000"/>
<circle cx="634.3" cy="238.8" r="1.6" fill="#000"/>
<circle cx="643" cy="241.6" r="1.6" fill="#000"/>
<circle cx="638.7" cy="248.8" r="1.6" fill="#000"/>
<circle cx="655.9" cy="216.5" r="1.6" fill="#000"/>
<circle cx="655.9" cy="228.6" r="1.6" fill="#000"/>
<circle cx="655.9" cy="248.4" r="1.6" fill="#000"/>
<circle cx="673" cy="198.6" r="1.6" fill="#000"/>
<circle cx="673" cy="215.2" r="1.6" fill="#000"/>
<circle cx="673" cy="234.4" r="1.6" fill="#000"/>
<path d="M620.4 191.3V187.8H673.4V191.3" fill="none" stroke="#7a7a7a" stroke-width="1"/>
<circle cx="647.2" cy="183.05" r="1.3" fill="#1a1a1a"/>
<text transform="translate(9.3 300.7) scale(0.9677 1.0000)" x="-1.51" y="0" fill="#000" font-weight="bold"><tspan font-size="22.5">H</tspan></text>
<text transform="translate(51.5 317.4) scale(0.9360 1.0000)" x="-0.8" y="0" fill="#111"><tspan font-size="10.4">U87-MG</tspan></text>
<text transform="translate(12.5 394.8) rotate(-90) scale(1.1262 1)" x="-0.48" y="0" fill="#1a1a1a"><tspan font-size="7.4">pH3</tspan><tspan font-size="5.33" dy="-2.66">+</tspan><tspan font-size="7.4" dy="2.66"> cells (%)</tspan></text>
<line x1="25.8" y1="328.2" x2="25.8" y2="408.2" stroke="#333" stroke-width="1.1"/>
<line x1="25.8" y1="328.7" x2="28" y2="328.7" stroke="#333" stroke-width="1"/>
<text transform="translate(22.13 331.04) scale(0.8500 1.0000)" x="-0.35" y="0" fill="#111"><tspan font-size="6.8">6</tspan></text>
<line x1="25.8" y1="354.9" x2="28" y2="354.9" stroke="#333" stroke-width="1"/>
<text transform="translate(21.89 357.24) scale(0.8500 1.0000)" x="-0.16" y="0" fill="#111"><tspan font-size="6.8">4</tspan></text>
<line x1="25.8" y1="381.5" x2="28" y2="381.5" stroke="#333" stroke-width="1"/>
<text transform="translate(22.17 383.87) scale(0.8500 1.0000)" x="-0.34" y="0" fill="#111"><tspan font-size="6.8">2</tspan></text>
<line x1="25.8" y1="408.4" x2="28" y2="408.4" stroke="#333" stroke-width="1"/>
<text transform="translate(22.04 410.74) scale(0.8500 1.0000)" x="-0.27" y="0" fill="#111"><tspan font-size="6.8">0</tspan></text>
<rect x="32.65" y="369.45" width="11.7" height="38.75" fill="#666666" stroke="#2a2a2a" stroke-width="0.7"/>
<rect x="51.65" y="382.95" width="12.4" height="25.25" fill="#FFC080" stroke="#2a2a2a" stroke-width="0.7"/>
<rect x="71.15" y="407.85" width="12.1" height="0.35" fill="#FFA040" stroke="#2a2a2a" stroke-width="0.7"/>
<rect x="90.35" y="407.85" width="12.3" height="0.35" fill="#FF8000" stroke="#2a2a2a" stroke-width="0.7"/>
<line x1="25.3" y1="408.2" x2="110" y2="408.2" stroke="#111" stroke-width="1.1"/>
<line x1="38.5" y1="365.2" x2="38.5" y2="373" stroke="#333" stroke-width="0.9"/>
<line x1="35.5" y1="365.2" x2="41.5" y2="365.2" stroke="#333" stroke-width="0.9"/>
<line x1="35.5" y1="373" x2="41.5" y2="373" stroke="#333" stroke-width="0.9"/>
<line x1="58" y1="380.5" x2="58" y2="384.8" stroke="#333" stroke-width="0.9"/>
<line x1="55" y1="380.5" x2="61" y2="380.5" stroke="#333" stroke-width="0.9"/>
<line x1="55" y1="384.8" x2="61" y2="384.8" stroke="#333" stroke-width="0.9"/>
<circle cx="38.5" cy="361.8" r="1.6" fill="#000"/>
<circle cx="33.5" cy="374.4" r="1.6" fill="#000"/>
<circle cx="43.4" cy="371.8" r="1.6" fill="#000"/>
<circle cx="53.1" cy="379.2" r="1.6" fill="#000"/>
<circle cx="62.7" cy="381.2" r="1.6" fill="#000"/>
<circle cx="58" cy="386.7" r="1.6" fill="#000"/>
<circle cx="72.5" cy="408" r="1.6" fill="#000"/>
<circle cx="77.5" cy="405.4" r="1.6" fill="#000"/>
<circle cx="82.3" cy="408" r="1.6" fill="#000"/>
<circle cx="91.9" cy="408" r="1.6" fill="#000"/>
<circle cx="96.7" cy="405.4" r="1.6" fill="#000"/>
<circle cx="102" cy="408" r="1.6" fill="#000"/>
<path d="M38.2 356.7V353.2H57.8V356.7" fill="none" stroke="#7a7a7a" stroke-width="1"/>
<circle cx="46" cy="348.75" r="1.3" fill="#1a1a1a"/>
<circle cx="50.4" cy="348.75" r="1.3" fill="#1a1a1a"/>
<path d="M38.2 346.4V342.9H75.9V346.4" fill="none" stroke="#7a7a7a" stroke-width="1"/>
<circle cx="52.6" cy="338.75" r="1.3" fill="#1a1a1a"/>
<circle cx="57" cy="338.75" r="1.3" fill="#1a1a1a"/>
<circle cx="61.4" cy="338.75" r="1.3" fill="#1a1a1a"/>
<path d="M38.2 336.6V333.1H97.1V336.6" fill="none" stroke="#7a7a7a" stroke-width="1"/>
<circle cx="63.1" cy="328.45" r="1.3" fill="#1a1a1a"/>
<circle cx="67.5" cy="328.45" r="1.3" fill="#1a1a1a"/>
<circle cx="71.9" cy="328.45" r="1.3" fill="#1a1a1a"/>
<text transform="translate(131.7 317.4) scale(0.9701 1.0000)" x="-0.8" y="0" fill="#111"><tspan font-size="10.4">U251-MG</tspan></text>
<line x1="116.9" y1="330.3" x2="116.9" y2="408.1" stroke="#777777" stroke-width="1.1"/>
<line x1="116.9" y1="330.8" x2="119.1" y2="330.8" stroke="#777777" stroke-width="1"/>
<text transform="translate(113.28 333) scale(0.8500 1.0000)" x="-0.26" y="0" fill="#111"><tspan font-size="6.5">5</tspan></text>
<line x1="116.9" y1="346.6" x2="119.1" y2="346.6" stroke="#777777" stroke-width="1"/>
<text transform="translate(113.12 348.84) scale(0.8500 1.0000)" x="-0.15" y="0" fill="#111"><tspan font-size="6.5">4</tspan></text>
<line x1="116.9" y1="361.7" x2="119.1" y2="361.7" stroke="#777777" stroke-width="1"/>
<text transform="translate(113.28 363.94) scale(0.8500 1.0000)" x="-0.25" y="0" fill="#111"><tspan font-size="6.5">3</tspan></text>
<line x1="116.9" y1="377.2" x2="119.1" y2="377.2" stroke="#777777" stroke-width="1"/>
<text transform="translate(113.38 379.47) scale(0.8500 1.0000)" x="-0.33" y="0" fill="#111"><tspan font-size="6.5">2</tspan></text>
<line x1="116.9" y1="392.3" x2="119.1" y2="392.3" stroke="#777777" stroke-width="1"/>
<text transform="translate(113.52 394.54) scale(0.8500 1.0000)" x="-0.5" y="0" fill="#111"><tspan font-size="6.5">1</tspan></text>
<line x1="116.9" y1="408" x2="119.1" y2="408" stroke="#777777" stroke-width="1"/>
<text transform="translate(113.26 410.24) scale(0.8500 1.0000)" x="-0.25" y="0" fill="#111"><tspan font-size="6.5">0</tspan></text>
<rect x="123.75" y="366.45" width="11.2" height="41.65" fill="#666666" stroke="#2a2a2a" stroke-width="0.7"/>
<rect x="141.75" y="368.35" width="10.8" height="39.75" fill="#FFC080" stroke="#2a2a2a" stroke-width="0.7"/>
<rect x="159.65" y="389.65" width="10.9" height="18.45" fill="#FFA040" stroke="#2a2a2a" stroke-width="0.7"/>
<rect x="177.55" y="407.65" width="10.9" height="0.45" fill="#FF8000" stroke="#2a2a2a" stroke-width="0.7"/>
<line x1="116.4" y1="408.1" x2="195.1" y2="408.1" stroke="#111" stroke-width="1.1"/>
<line x1="129.1" y1="358.6" x2="129.1" y2="374.5" stroke="#333" stroke-width="0.9"/>
<line x1="126.3" y1="358.6" x2="131.9" y2="358.6" stroke="#333" stroke-width="0.9"/>
<line x1="126.3" y1="374.5" x2="131.9" y2="374.5" stroke="#333" stroke-width="0.9"/>
<line x1="147.2" y1="363.1" x2="147.2" y2="374" stroke="#333" stroke-width="0.9"/>
<line x1="144.4" y1="363.1" x2="150" y2="363.1" stroke="#333" stroke-width="0.9"/>
<line x1="144.4" y1="374" x2="150" y2="374" stroke="#333" stroke-width="0.9"/>
<line x1="165.2" y1="374.3" x2="165.2" y2="404.2" stroke="#333" stroke-width="0.9"/>
<line x1="162.4" y1="374.3" x2="168" y2="374.3" stroke="#333" stroke-width="0.9"/>
<line x1="162.4" y1="404.2" x2="168" y2="404.2" stroke="#333" stroke-width="0.9"/>
<circle cx="124.4" cy="360.3" r="1.6" fill="#000"/>
<circle cx="133.4" cy="359.7" r="1.6" fill="#000"/>
<circle cx="129.1" cy="369.3" r="1.6" fill="#000"/>
<circle cx="129.1" cy="376.4" r="1.6" fill="#000"/>
<circle cx="142.5" cy="365" r="1.6" fill="#000"/>
<circle cx="151.5" cy="363.1" r="1.6" fill="#000"/>
<circle cx="147.2" cy="369.7" r="1.6" fill="#000"/>
<circle cx="147.2" cy="375.4" r="1.6" fill="#000"/>
<circle cx="165.2" cy="372.1" r="1.6" fill="#000"/>
<circle cx="160.5" cy="399.2" r="1.6" fill="#000"/>
<circle cx="169.4" cy="396.4" r="1.6" fill="#000"/>
<circle cx="178.6" cy="408.2" r="1.6" fill="#000"/>
<circle cx="181.5" cy="404.9" r="1.6" fill="#000"/>
<circle cx="184.3" cy="408.2" r="1.6" fill="#000"/>
<circle cx="187.5" cy="408.2" r="1.6" fill="#000"/>
<path d="M129 348.1V344.6H165.3V348.1" fill="none" stroke="#7a7a7a" stroke-width="1"/>
<circle cx="145.2" cy="339.95" r="1.3" fill="#1a1a1a"/>
<circle cx="149.6" cy="339.95" r="1.3" fill="#1a1a1a"/>
<path d="M129 339.3V335.8H182.7V339.3" fill="none" stroke="#7a7a7a" stroke-width="1"/>
<circle cx="152.1" cy="331.05" r="1.3" fill="#1a1a1a"/>
<circle cx="156.5" cy="331.05" r="1.3" fill="#1a1a1a"/>
<circle cx="160.9" cy="331.05" r="1.3" fill="#1a1a1a"/>
<text transform="translate(217.9 300.5) scale(1.1725 1.0000)" x="-1.51" y="0" fill="#000" font-weight="bold"><tspan font-size="22.5">I</tspan></text>
<text transform="translate(253.2 317.4) scale(0.9386 1.0000)" x="-0.8" y="0" fill="#111"><tspan font-size="10.4">U87-MG</tspan></text>
<text transform="translate(214.4 411.9) rotate(-90) scale(1.0463 1)" x="-0.4" y="0" fill="#1a1a1a"><tspan font-size="7.8">Cleaved Caspase 3</tspan><tspan font-size="5.62" dy="-2.81">+</tspan><tspan font-size="7.8" dy="2.81"> (%)</tspan></text>
<line x1="232" y1="328.4" x2="232" y2="408.2" stroke="#555" stroke-width="1.1"/>
<line x1="232" y1="328.9" x2="234.2" y2="328.9" stroke="#555" stroke-width="1"/>
<text transform="translate(224.71 331.1) scale(0.9500 1.0000)" x="-0.24" y="0" fill="#111"><tspan font-size="6.4">30</tspan></text>
<line x1="232" y1="355" x2="234.2" y2="355" stroke="#555" stroke-width="1"/>
<text transform="translate(224.78 357.2) scale(0.9500 1.0000)" x="-0.32" y="0" fill="#111"><tspan font-size="6.4">20</tspan></text>
<line x1="232" y1="381.3" x2="234.2" y2="381.3" stroke="#555" stroke-width="1"/>
<text transform="translate(224.94 383.5) scale(0.9500 1.0000)" x="-0.49" y="0" fill="#111"><tspan font-size="6.4">10</tspan></text>
<line x1="232" y1="407.7" x2="234.2" y2="407.7" stroke="#555" stroke-width="1"/>
<text transform="translate(228.09 409.9) scale(0.9500 1.0000)" x="-0.25" y="0" fill="#111"><tspan font-size="6.4">0</tspan></text>
<rect x="237.55" y="407.55" width="12.1" height="0.65" fill="#666666" stroke="#2a2a2a" stroke-width="0.7"/>
<rect x="256.85" y="406.85" width="12.1" height="1.35" fill="#FFC080" stroke="#2a2a2a" stroke-width="0.7"/>
<rect x="275.45" y="397.75" width="12.2" height="10.45" fill="#FFA040" stroke="#2a2a2a" stroke-width="0.7"/>
<rect x="294.75" y="366.55" width="12.2" height="41.65" fill="#FF8000" stroke="#2a2a2a" stroke-width="0.7"/>
<line x1="231.5" y1="408.2" x2="313" y2="408.2" stroke="#111" stroke-width="1.1"/>
<line x1="281.6" y1="394.3" x2="281.6" y2="401.6" stroke="#333" stroke-width="0.9"/>
<line x1="279.1" y1="394.3" x2="284.1" y2="394.3" stroke="#333" stroke-width="0.9"/>
<line x1="279.1" y1="401.6" x2="284.1" y2="401.6" stroke="#333" stroke-width="0.9"/>
<line x1="300.5" y1="354.4" x2="300.5" y2="378.9" stroke="#333" stroke-width="0.9"/>
<line x1="297.5" y1="354.4" x2="303.5" y2="354.4" stroke="#333" stroke-width="0.9"/>
<line x1="297.5" y1="378.9" x2="303.5" y2="378.9" stroke="#333" stroke-width="0.9"/>
<circle cx="239.8" cy="407.9" r="1.6" fill="#000"/>
<circle cx="244.3" cy="407.9" r="1.6" fill="#000"/>
<circle cx="248.9" cy="407.9" r="1.6" fill="#000"/>
<circle cx="258.5" cy="406.7" r="1.6" fill="#000"/>
<circle cx="263" cy="406.7" r="1.6" fill="#000"/>
<circle cx="267.6" cy="406.7" r="1.6" fill="#000"/>
<circle cx="281.6" cy="390.5" r="1.6" fill="#000"/>
<circle cx="281.6" cy="398.8" r="1.6" fill="#000"/>
<circle cx="281.6" cy="403.7" r="1.6" fill="#000"/>
<circle cx="300.5" cy="350.4" r="1.6" fill="#000"/>
<circle cx="300.5" cy="358.2" r="1.6" fill="#000"/>
<circle cx="300.5" cy="390.8" r="1.6" fill="#000"/>
<path d="M243.6 338.8V335.3H300.8V338.8" fill="none" stroke="#7a7a7a" stroke-width="1"/>
<circle cx="270.3" cy="330.15" r="1.3" fill="#1a1a1a"/>
<circle cx="274.7" cy="330.15" r="1.3" fill="#1a1a1a"/>
<text transform="translate(339.4 317.4) scale(0.9448 1.0000)" x="-0.8" y="0" fill="#111"><tspan font-size="10.4">U251-MG</tspan></text>
<line x1="323.3" y1="328.4" x2="323.3" y2="408.2" stroke="#333" stroke-width="1.1"/>
<line x1="323.3" y1="328.9" x2="325.5" y2="328.9" stroke="#333" stroke-width="1"/>
<text transform="translate(315.69 331.27) scale(0.9500 1.0000)" x="-0.53" y="0" fill="#111"><tspan font-size="7">15</tspan></text>
<line x1="323.3" y1="355.1" x2="325.5" y2="355.1" stroke="#333" stroke-width="1"/>
<text transform="translate(315.67 357.51) scale(0.9500 1.0000)" x="-0.53" y="0" fill="#111"><tspan font-size="7">10</tspan></text>
<line x1="323.3" y1="381.3" x2="325.5" y2="381.3" stroke="#333" stroke-width="1"/>
<text transform="translate(319.15 383.67) scale(0.9500 1.0000)" x="-0.28" y="0" fill="#111"><tspan font-size="7">5</tspan></text>
<line x1="323.3" y1="407.5" x2="325.5" y2="407.5" stroke="#333" stroke-width="1"/>
<text transform="translate(319.12 409.91) scale(0.9500 1.0000)" x="-0.27" y="0" fill="#111"><tspan font-size="7">0</tspan></text>
<rect x="329.35" y="407.35" width="11.1" height="0.85" fill="#666666" stroke="#2a2a2a" stroke-width="0.7"/>
<rect x="347.75" y="404.95" width="11.2" height="3.25" fill="#FFC080" stroke="#2a2a2a" stroke-width="0.7"/>
<rect x="366.55" y="392.35" width="11.7" height="15.85" fill="#FFA040" stroke="#2a2a2a" stroke-width="0.7"/>
<rect x="385.25" y="347.15" width="12.3" height="61.05" fill="#FF8000" stroke="#2a2a2a" stroke-width="0.7"/>
<line x1="322.8" y1="408.2" x2="403.4" y2="408.2" stroke="#111" stroke-width="1.1"/>
<line x1="372.4" y1="392.2" x2="372.4" y2="394" stroke="#333" stroke-width="0.9"/>
<line x1="369.9" y1="392.2" x2="374.9" y2="392.2" stroke="#333" stroke-width="0.9"/>
<line x1="369.9" y1="394" x2="374.9" y2="394" stroke="#333" stroke-width="0.9"/>
<line x1="391.2" y1="342" x2="391.2" y2="352.4" stroke="#333" stroke-width="0.9"/>
<line x1="387.4" y1="342" x2="395" y2="342" stroke="#333" stroke-width="0.9"/>
<line x1="387.4" y1="352.4" x2="395" y2="352.4" stroke="#333" stroke-width="0.9"/>
<circle cx="330.8" cy="407.9" r="1.6" fill="#000"/>
<circle cx="335.3" cy="407.1" r="1.6" fill="#000"/>
<circle cx="339.6" cy="407.1" r="1.6" fill="#000"/>
<circle cx="349.5" cy="405.4" r="1.6" fill="#000"/>
<circle cx="354" cy="403.7" r="1.6" fill="#000"/>
<circle cx="358.6" cy="404.6" r="1.6" fill="#000"/>
<circle cx="368" cy="391.3" r="1.6" fill="#000"/>
<circle cx="377.2" cy="391.8" r="1.6" fill="#000"/>
<circle cx="372.7" cy="396" r="1.6" fill="#000"/>
<circle cx="386.6" cy="341.7" r="1.6" fill="#000"/>
<circle cx="395.9" cy="342" r="1.6" fill="#000"/>
<circle cx="391.2" cy="357.9" r="1.6" fill="#000"/>
<path d="M335.2 347.6V344.1H371.1V347.6" fill="none" stroke="#7a7a7a" stroke-width="1"/>
<circle cx="352.9" cy="339.65" r="1.3" fill="#1a1a1a"/>
<path d="M335.2 337.1V333.6H391.5V337.1" fill="none" stroke="#7a7a7a" stroke-width="1"/>
<circle cx="359" cy="328.85" r="1.3" fill="#1a1a1a"/>
<circle cx="363.4" cy="328.85" r="1.3" fill="#1a1a1a"/>
<circle cx="367.8" cy="328.85" r="1.3" fill="#1a1a1a"/>
<text transform="translate(430.5 300.5) scale(1.0155 1.0000)" x="-0.34" y="0" fill="#000" font-weight="bold"><tspan font-size="22.5">J</tspan></text>
<text transform="translate(492 303.3) scale(0.9801 1.0000)" x="-0.48" y="0" fill="#111"><tspan font-size="9.6">GNS166</tspan></text>
<text transform="translate(437.3 386.8) rotate(-90) scale(1.1070 1)" x="-0.27" y="0" fill="#1a1a1a"><tspan font-size="7.6">% of cells</tspan></text>
<line x1="455.6" y1="313.5" x2="455.6" y2="424" stroke="#777777" stroke-width="1.1"/>
<line x1="453.4" y1="314" x2="455.6" y2="314" stroke="#777777" stroke-width="1"/>
<text transform="translate(444.91 316.51) scale(0.9700 1.0000)" x="-0.32" y="0" fill="#111"><tspan font-size="7.3">80</tspan></text>
<line x1="453.4" y1="341.9" x2="455.6" y2="341.9" stroke="#777777" stroke-width="1"/>
<text transform="translate(444.96 344.41) scale(0.9700 1.0000)" x="-0.37" y="0" fill="#111"><tspan font-size="7.3">60</tspan></text>
<line x1="453.4" y1="369" x2="455.6" y2="369" stroke="#777777" stroke-width="1"/>
<text transform="translate(444.76 371.51) scale(0.9700 1.0000)" x="-0.17" y="0" fill="#111"><tspan font-size="7.3">40</tspan></text>
<line x1="453.4" y1="396.8" x2="455.6" y2="396.8" stroke="#777777" stroke-width="1"/>
<text transform="translate(444.96 399.31) scale(0.9700 1.0000)" x="-0.37" y="0" fill="#111"><tspan font-size="7.3">20</tspan></text>
<line x1="453.4" y1="424.3" x2="455.6" y2="424.3" stroke="#777777" stroke-width="1"/>
<text transform="translate(448.82 426.81) scale(0.9700 1.0000)" x="-0.29" y="0" fill="#111"><tspan font-size="7.3">0</tspan></text>
<rect x="461.25" y="421.55" width="7.7" height="2.45" fill="#666666" stroke="#2a2a2a" stroke-width="0.7"/>
<rect x="469.65" y="414.85" width="8.2" height="9.15" fill="#FFA040" stroke="#2a2a2a" stroke-width="0.7"/>
<rect x="478.55" y="408.05" width="7.8" height="15.95" fill="#FF8000" stroke="#2a2a2a" stroke-width="0.7"/>
<rect x="491.35" y="347.75" width="7.8" height="76.25" fill="#666666" stroke="#2a2a2a" stroke-width="0.7"/>
<rect x="499.85" y="352.05" width="7.7" height="71.95" fill="#FFA040" stroke="#2a2a2a" stroke-width="0.7"/>
<rect x="508.25" y="356.35" width="7.8" height="67.65" fill="#FF8000" stroke="#2a2a2a" stroke-width="0.7"/>
<rect x="520.65" y="402.05" width="7.9" height="21.95" fill="#666666" stroke="#2a2a2a" stroke-width="0.7"/>
<rect x="529.25" y="418.35" width="7.8" height="5.65" fill="#FFA040" stroke="#2a2a2a" stroke-width="0.7"/>
<rect x="537.75" y="416.45" width="7.8" height="7.55" fill="#FF8000" stroke="#2a2a2a" stroke-width="0.7"/>
<rect x="550.15" y="388.25" width="7.8" height="35.75" fill="#666666" stroke="#2a2a2a" stroke-width="0.7"/>
<rect x="558.65" y="375.75" width="8.2" height="48.25" fill="#FFA040" stroke="#2a2a2a" stroke-width="0.7"/>
<rect x="567.55" y="379.35" width="7.7" height="44.65" fill="#FF8000" stroke="#2a2a2a" stroke-width="0.7"/>
<line x1="455.1" y1="424" x2="580" y2="424" stroke="#111" stroke-width="1.1"/>
<line x1="465.8" y1="419" x2="465.8" y2="423.5" stroke="#333" stroke-width="0.7"/>
<line x1="464.2" y1="419" x2="467.4" y2="419" stroke="#333" stroke-width="0.7"/>
<line x1="464.2" y1="423.5" x2="467.4" y2="423.5" stroke="#333" stroke-width="0.7"/>
<line x1="475.2" y1="407.8" x2="475.2" y2="421" stroke="#333" stroke-width="0.7"/>
<line x1="473.6" y1="407.8" x2="476.8" y2="407.8" stroke="#333" stroke-width="0.7"/>
<line x1="473.6" y1="421" x2="476.8" y2="421" stroke="#333" stroke-width="0.7"/>
<line x1="481.9" y1="401.7" x2="481.9" y2="414" stroke="#333" stroke-width="0.7"/>
<line x1="480.3" y1="401.7" x2="483.5" y2="401.7" stroke="#333" stroke-width="0.7"/>
<line x1="480.3" y1="414" x2="483.5" y2="414" stroke="#333" stroke-width="0.7"/>
<line x1="503" y1="344.5" x2="503" y2="359" stroke="#333" stroke-width="0.7"/>
<line x1="501.4" y1="344.5" x2="504.6" y2="344.5" stroke="#333" stroke-width="0.7"/>
<line x1="501.4" y1="359" x2="504.6" y2="359" stroke="#333" stroke-width="0.7"/>
<line x1="512.7" y1="349.1" x2="512.7" y2="362.5" stroke="#333" stroke-width="0.7"/>
<line x1="511.1" y1="349.1" x2="514.3" y2="349.1" stroke="#333" stroke-width="0.7"/>
<line x1="511.1" y1="362.5" x2="514.3" y2="362.5" stroke="#333" stroke-width="0.7"/>
<line x1="532" y1="415.3" x2="532" y2="420.7" stroke="#333" stroke-width="0.7"/>
<line x1="530.4" y1="415.3" x2="533.6" y2="415.3" stroke="#333" stroke-width="0.7"/>
<line x1="530.4" y1="420.7" x2="533.6" y2="420.7" stroke="#333" stroke-width="0.7"/>
<line x1="553.5" y1="385.5" x2="553.5" y2="391" stroke="#333" stroke-width="0.7"/>
<line x1="551.9" y1="385.5" x2="555.1" y2="385.5" stroke="#333" stroke-width="0.7"/>
<line x1="551.9" y1="391" x2="555.1" y2="391" stroke="#333" stroke-width="0.7"/>
<line x1="562.2" y1="369" x2="562.2" y2="383" stroke="#333" stroke-width="0.7"/>
<line x1="560.6" y1="369" x2="563.8" y2="369" stroke="#333" stroke-width="0.7"/>
<line x1="560.6" y1="383" x2="563.8" y2="383" stroke="#333" stroke-width="0.7"/>
<line x1="571.1" y1="374.8" x2="571.1" y2="384.2" stroke="#333" stroke-width="0.7"/>
<line x1="569.5" y1="374.8" x2="572.7" y2="374.8" stroke="#333" stroke-width="0.7"/>
<line x1="569.5" y1="384.2" x2="572.7" y2="384.2" stroke="#333" stroke-width="0.7"/>
<circle cx="466.1" cy="420" r="1" fill="#000"/>
<circle cx="467.7" cy="422" r="1" fill="#000"/>
<circle cx="475.2" cy="407.8" r="1" fill="#000"/>
<circle cx="476.2" cy="416.5" r="1" fill="#000"/>
<circle cx="474.2" cy="418" r="1" fill="#000"/>
<circle cx="481.9" cy="402.3" r="1" fill="#000"/>
<circle cx="485" cy="408.8" r="1" fill="#000"/>
<circle cx="483.3" cy="409.8" r="1" fill="#000"/>
<circle cx="495.5" cy="347.1" r="1" fill="#000"/>
<circle cx="497.5" cy="346.1" r="1" fill="#000"/>
<circle cx="502.6" cy="344" r="1" fill="#000"/>
<circle cx="502.2" cy="353.8" r="1" fill="#000"/>
<circle cx="505.6" cy="356.2" r="1" fill="#000"/>
<circle cx="513.1" cy="349.1" r="1" fill="#000"/>
<circle cx="514.3" cy="357.8" r="1" fill="#000"/>
<circle cx="512.3" cy="360.6" r="1" fill="#000"/>
<circle cx="523.7" cy="401.7" r="1" fill="#000"/>
<circle cx="525.7" cy="400.7" r="1" fill="#000"/>
<circle cx="530.6" cy="415.9" r="1" fill="#000"/>
<circle cx="531.2" cy="419" r="1" fill="#000"/>
<circle cx="533.2" cy="417.5" r="1" fill="#000"/>
<circle cx="541.3" cy="414.9" r="1" fill="#000"/>
<circle cx="542.3" cy="416.9" r="1" fill="#000"/>
<circle cx="552" cy="386.2" r="1" fill="#000"/>
<circle cx="554.1" cy="388.6" r="1" fill="#000"/>
<circle cx="552.8" cy="390.2" r="1" fill="#000"/>
<circle cx="562.2" cy="369" r="1" fill="#000"/>
<circle cx="563" cy="380.5" r="1" fill="#000"/>
<circle cx="565" cy="378.9" r="1" fill="#000"/>
<circle cx="571.1" cy="375.4" r="1" fill="#000"/>
<circle cx="569" cy="380.5" r="1" fill="#000"/>
<circle cx="573.7" cy="382.5" r="1" fill="#000"/>
<path d="M466.4 394.1V392.3H474.1V394.1" fill="none" stroke="#7a7a7a" stroke-width="1"/>
<circle cx="469.3" cy="388.65" r="1.1" fill="#1a1a1a"/>
<path d="M466.4 382.5V380.7H481.9V382.5" fill="none" stroke="#7a7a7a" stroke-width="1"/>
<circle cx="472.15" cy="377.25" r="1.1" fill="#1a1a1a"/>
<circle cx="476.05" cy="377.25" r="1.1" fill="#1a1a1a"/>
<path d="M495.3 324.3V322.5H511.5V324.3" fill="none" stroke="#7a7a7a" stroke-width="1"/>
<circle cx="503.4" cy="318.75" r="1.1" fill="#1a1a1a"/>
<path d="M525.2 392.8V391H533.4V392.8" fill="none" stroke="#7a7a7a" stroke-width="1"/>
<circle cx="524.9" cy="388.15" r="1.1" fill="#1a1a1a"/>
<circle cx="528.8" cy="388.15" r="1.1" fill="#1a1a1a"/>
<circle cx="532.7" cy="388.15" r="1.1" fill="#1a1a1a"/>
<path d="M525.2 381.3V379.5H541.4V381.3" fill="none" stroke="#7a7a7a" stroke-width="1"/>
<circle cx="529" cy="375.65" r="1.1" fill="#1a1a1a"/>
<circle cx="532.9" cy="375.65" r="1.1" fill="#1a1a1a"/>
<circle cx="536.8" cy="375.65" r="1.1" fill="#1a1a1a"/>
<path d="M554.2 360.8V359H562.6V360.8" fill="none" stroke="#7a7a7a" stroke-width="1"/>
<circle cx="556.35" cy="355.55" r="1.1" fill="#1a1a1a"/>
<circle cx="560.25" cy="355.55" r="1.1" fill="#1a1a1a"/>
<path d="M554.2 348.7V346.9H570.3V348.7" fill="none" stroke="#7a7a7a" stroke-width="1"/>
<circle cx="562.6" cy="343.55" r="1.1" fill="#1a1a1a"/>
<text transform="translate(462.5 433.8) scale(0.8796 1.0000)" x="-0.36" y="0" fill="#111"><tspan font-size="8">Sub.G1</tspan></text>
<text transform="translate(499.5 433.8) scale(0.8604 1.0000)" x="-0.4" y="0" fill="#111"><tspan font-size="8">G1</tspan></text>
<text transform="translate(530.6 433.8) scale(0.8685 1.0000)" x="-0.36" y="0" fill="#111"><tspan font-size="8">S</tspan></text>
<text transform="translate(554.6 433.8) scale(0.9645 1.0000)" x="-0.4" y="0" fill="#111"><tspan font-size="8">G2M</tspan></text>
<rect x="588.4" y="320.3" width="7.3" height="8.3" fill="#666666" stroke="#2a2a2a" stroke-width="0.7"/>
<rect x="588.4" y="328.6" width="7.3" height="9.6" fill="#FFA040" stroke="#2a2a2a" stroke-width="0.7"/>
<rect x="588.4" y="338.2" width="7.3" height="9" fill="#FF8000" stroke="#2a2a2a" stroke-width="0.7"/>
<rect x="601.2" y="324.2" width="2.6" height="0.7" fill="#222"/>
<text transform="translate(600.7 335.4) scale(1.0997 1.0000)" x="-0.3" y="0" fill="#222"><tspan font-size="7.4">5μM</tspan></text>
<text transform="translate(599.7 345) scale(1.1093 1.0000)" x="-0.56" y="0" fill="#222"><tspan font-size="7.4">10μM</tspan></text>
</svg>
</body></html>
